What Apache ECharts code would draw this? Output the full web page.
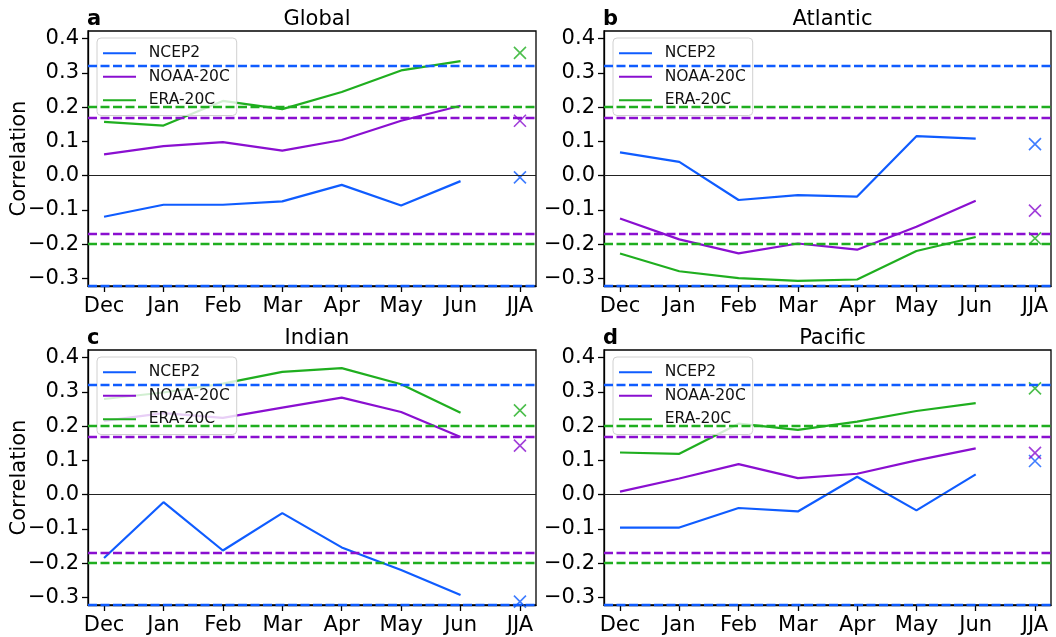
<!DOCTYPE html>
<html>
<head>
<meta charset="utf-8">
<script src="https://cdn.jsdelivr.net/npm/echarts@6/dist/echarts.min.js"></script>
<style>
html,body{margin:0;padding:0;background:#fff;}
#chart{width:1056px;height:637px;}
</style>
</head>
<body>
<div id="chart"></div>
<script>
// ---- data ----
const categories = ['Dec', 'Jan', 'Feb', 'Mar', 'Apr', 'May', 'Jun', 'JJA'];
const panelTitles = ['Global', 'Atlantic', 'Indian', 'Pacific'];
const panelLetters = ['a', 'b', 'c', 'd'];
const datasetNames = ['NCEP2', 'NOAA-20C', 'ERA-20C'];
const yTicks = [-0.3, -0.2, -0.1, 0.0, 0.1, 0.2, 0.3, 0.4];
// significance levels (NCEP2, NOAA-20C, ERA-20C)
const sigLevels = [0.319, 0.172, 0.205];

// monthly correlations Dec..Jun
const globalNCEP2 = [-0.120, -0.085, -0.085, -0.075, -0.027, -0.087, -0.016];
const globalNOAA  = [0.062, 0.086, 0.098, 0.073, 0.104, 0.160, 0.204];
const globalERA   = [0.157, 0.146, 0.218, 0.194, 0.244, 0.307, 0.334];
const globalJJA   = [-0.005, 0.160, 0.358];

const atlanticNCEP2 = [0.068, 0.040, -0.071, -0.057, -0.061, 0.115, 0.108];
const atlanticNOAA  = [-0.125, -0.186, -0.227, -0.198, -0.216, -0.149, -0.073];
const atlanticERA   = [-0.227, -0.279, -0.299, -0.307, -0.303, -0.220, -0.179];
const atlanticJJA   = [0.092, -0.102, -0.183];

const indianNCEP2 = [-0.185, -0.022, -0.163, -0.054, -0.154, -0.220, -0.293];
const indianNOAA  = [0.215, 0.238, 0.224, 0.254, 0.283, 0.241, 0.168];
const indianERA   = [0.279, 0.298, 0.324, 0.358, 0.369, 0.322, 0.239];
const indianJJA   = [-0.312, 0.143, 0.246];

const pacificNCEP2 = [-0.096, -0.096, -0.039, -0.049, 0.052, -0.046, 0.059];
const pacificNOAA  = [0.009, 0.047, 0.089, 0.048, 0.061, 0.100, 0.135];
const pacificERA   = [0.123, 0.119, 0.207, 0.189, 0.213, 0.244, 0.267];
const pacificJJA   = [0.098, 0.122, 0.310];

const panelMonthly = [
  [globalNCEP2, globalNOAA, globalERA],
  [atlanticNCEP2, atlanticNOAA, atlanticERA],
  [indianNCEP2, indianNOAA, indianERA],
  [pacificNCEP2, pacificNOAA, pacificERA]
];
const panelJJA = [globalJJA, atlanticJJA, indianJJA, pacificJJA];

// ---- styles / layout ----
const colors = ['#0f5cff', '#8a0fd0', '#1fae1f'];
const FONT = 'DejaVu Sans';
const grids = [
  {left: 88, top: 31, width: 448, height: 255},
  {left: 604, top: 31, width: 447, height: 255},
  {left: 88, top: 350, width: 448, height: 255},
  {left: 604, top: 350, width: 447, height: 255}
];
const xMin = -0.27, xMax = 7.27;
const yMin = -0.322, yMax = 0.422;
const xPath = 'path://M0 0 L10 10 M10 0 L0 10';

const option = {
  animation: false,
  backgroundColor: '#fff',
  textStyle: {fontFamily: FONT},
  grid: [], xAxis: [], yAxis: [], series: [], title: [], legend: []
};

const fmtY = v => {
  const r = Math.round(v * 10) / 10;
  return (r < 0 ? '\u2212' : '') + Math.abs(r).toFixed(1);
};

grids.forEach((g, p) => {
  option.grid.push({left: g.left, top: g.top, width: g.width, height: g.height,
    outerBoundsMode: 'none',
    show: true, borderColor: '#000', borderWidth: 1.3, backgroundColor: 'transparent', containLabel: false});
  option.xAxis.push({
    type: 'value', gridIndex: p, min: xMin, max: xMax,
    axisLine: {show: true, onZero: false, lineStyle: {color: '#000', width: 1.3}},
    axisTick: {show: true, length: 6, inside: false, customValues: categories.map((c, i) => i), lineStyle: {color: '#000', width: 1.3}},
    axisLabel: {customValues: categories.map((c, i) => i), formatter: v => categories[Math.round(v)],
      fontSize: 21, color: '#000', fontFamily: FONT, margin: 10},
    splitLine: {show: false}
  });
  const yAx = {
    type: 'value', gridIndex: p, min: yMin, max: yMax,
    axisLine: {show: true, onZero: false, lineStyle: {color: '#000', width: 1.3}},
    axisTick: {show: true, length: 6, inside: false, customValues: yTicks, lineStyle: {color: '#000', width: 1.3}},
    axisLabel: {customValues: yTicks, formatter: fmtY, fontSize: 21, color: '#000', fontFamily: FONT, margin: 9},
    splitLine: {show: false}
  };
  if (p % 2 === 0) {
    yAx.name = 'Correlation';
    yAx.nameLocation = 'middle';
    yAx.nameGap = 58;
    yAx.nameMoveOverlap = false;
    yAx.nameTextStyle = {fontSize: 21, color: '#000', fontFamily: FONT};
  }
  option.yAxis.push(yAx);

  option.title.push({
    text: panelTitles[p], left: g.left + g.width / 2, top: g.top - 27, textAlign: 'center',
    textStyle: {fontSize: 21, fontWeight: 'normal', color: '#000', fontFamily: FONT}
  });
  option.title.push({
    text: panelLetters[p], left: g.left - 6, top: g.top - 27,
    textStyle: {fontSize: 21, fontWeight: 'bold', color: '#000', fontFamily: FONT}
  });

  option.legend.push({
    data: datasetNames, orient: 'vertical', left: g.left + 9, top: g.top + 7,
    itemWidth: 33, itemHeight: 2.2, itemGap: 7,
    padding: [7, 7, 7, 6],
    icon: 'rect',
    formatter: name => '\u2002' + name,
    backgroundColor: 'rgba(255,255,255,0.8)', borderColor: '#d0d0d0', borderWidth: 1, borderRadius: 4,
    textStyle: {fontSize: 15.5, lineHeight: 16.5, color: '#111', fontFamily: FONT},
    selectedMode: false
  });

  datasetNames.forEach((name, k) => {
    const ml = [
      {yAxis: sigLevels[k]},
      {yAxis: -sigLevels[k]}
    ];
    if (k === 0) ml.push({yAxis: 0, lineStyle: {color: '#222', type: 'solid', width: 1.1}});
    option.series.push({
      type: 'line', name: name, xAxisIndex: p, yAxisIndex: p,
      data: panelMonthly[p][k].map((v, i) => [i, v]),
      symbol: 'none', lineStyle: {color: colors[k], width: 2.2}, itemStyle: {color: colors[k]},
      z: 3,
      markLine: {
        silent: true, symbol: ['none', 'none'], label: {show: false},
        lineStyle: {color: colors[k], type: [9, 3.5], width: 2.3},
        data: ml
      }
    });
    option.series.push({
      type: 'scatter', name: name + ' JJA', xAxisIndex: p, yAxisIndex: p,
      data: [[categories.length - 1, panelJJA[p][k]]],
      symbol: xPath, symbolSize: 12,
      itemStyle: {color: 'none', borderColor: colors[k], borderWidth: 1.6},
      z: 3
    });
  });
});

const chart = echarts.init(document.getElementById('chart'), null, {renderer: 'canvas'});
chart.setOption(option);
</script>
</body>
</html>
